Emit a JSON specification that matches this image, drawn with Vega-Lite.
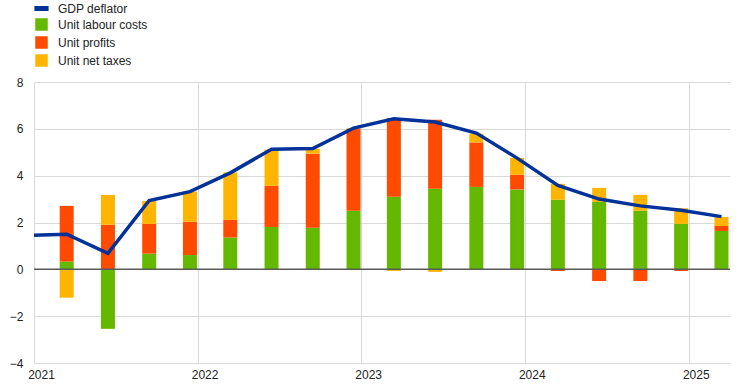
{
  "$schema": "https://vega.github.io/schema/vega-lite/v6.json",
  "autosize": {"type": "none"},
  "width": 696,
  "height": 281,
  "padding": {"left": 34, "top": 82, "right": 14, "bottom": 27},
  "config": {
    "font": "Liberation Sans",
    "view": {"stroke": null},
    "axis": {"labelFont": "Liberation Sans", "labelFontSize": 12, "labelColor": "#222222", "gridColor": "#d9d9d9", "gridWidth": 1, "domain": false, "ticks": false, "title": null}
  },
  "datasets": {
    "bars": [
      {"date": "2021-03-15", "series": "Unit labour costs", "ord": 1, "value": 0.33},
      {"date": "2021-03-15", "series": "Unit profits", "ord": 2, "value": 2.38},
      {"date": "2021-03-15", "series": "Unit net taxes", "ord": 3, "value": -1.21},
      {"date": "2021-06-15", "series": "Unit labour costs", "ord": 1, "value": -2.54},
      {"date": "2021-06-15", "series": "Unit profits", "ord": 2, "value": 1.90},
      {"date": "2021-06-15", "series": "Unit net taxes", "ord": 3, "value": 1.28},
      {"date": "2021-09-15", "series": "Unit labour costs", "ord": 1, "value": 0.67},
      {"date": "2021-09-15", "series": "Unit profits", "ord": 2, "value": 1.27},
      {"date": "2021-09-15", "series": "Unit net taxes", "ord": 3, "value": 0.98},
      {"date": "2021-12-15", "series": "Unit labour costs", "ord": 1, "value": 0.61},
      {"date": "2021-12-15", "series": "Unit profits", "ord": 2, "value": 1.42},
      {"date": "2021-12-15", "series": "Unit net taxes", "ord": 3, "value": 1.29},
      {"date": "2022-03-15", "series": "Unit labour costs", "ord": 1, "value": 1.36},
      {"date": "2022-03-15", "series": "Unit profits", "ord": 2, "value": 0.75},
      {"date": "2022-03-15", "series": "Unit net taxes", "ord": 3, "value": 2.03},
      {"date": "2022-06-15", "series": "Unit labour costs", "ord": 1, "value": 1.81},
      {"date": "2022-06-15", "series": "Unit profits", "ord": 2, "value": 1.76},
      {"date": "2022-06-15", "series": "Unit net taxes", "ord": 3, "value": 1.54},
      {"date": "2022-09-15", "series": "Unit labour costs", "ord": 1, "value": 1.78},
      {"date": "2022-09-15", "series": "Unit profits", "ord": 2, "value": 3.16},
      {"date": "2022-09-15", "series": "Unit net taxes", "ord": 3, "value": 0.21},
      {"date": "2022-12-15", "series": "Unit labour costs", "ord": 1, "value": 2.50},
      {"date": "2022-12-15", "series": "Unit profits", "ord": 2, "value": 3.50},
      {"date": "2022-12-15", "series": "Unit net taxes", "ord": 3, "value": 0.03},
      {"date": "2023-03-15", "series": "Unit labour costs", "ord": 1, "value": 3.10},
      {"date": "2023-03-15", "series": "Unit profits", "ord": 2, "value": 3.36},
      {"date": "2023-03-15", "series": "Unit net taxes", "ord": 3, "value": -0.07},
      {"date": "2023-06-15", "series": "Unit labour costs", "ord": 1, "value": 3.44},
      {"date": "2023-06-15", "series": "Unit profits", "ord": 2, "value": 2.95},
      {"date": "2023-06-15", "series": "Unit net taxes", "ord": 3, "value": -0.11},
      {"date": "2023-09-15", "series": "Unit labour costs", "ord": 1, "value": 3.52},
      {"date": "2023-09-15", "series": "Unit profits", "ord": 2, "value": 1.90},
      {"date": "2023-09-15", "series": "Unit net taxes", "ord": 3, "value": 0.37},
      {"date": "2023-12-15", "series": "Unit labour costs", "ord": 1, "value": 3.41},
      {"date": "2023-12-15", "series": "Unit profits", "ord": 2, "value": 0.63},
      {"date": "2023-12-15", "series": "Unit net taxes", "ord": 3, "value": 0.72},
      {"date": "2024-03-15", "series": "Unit labour costs", "ord": 1, "value": 2.97},
      {"date": "2024-03-15", "series": "Unit profits", "ord": 2, "value": -0.07},
      {"date": "2024-03-15", "series": "Unit net taxes", "ord": 3, "value": 0.68},
      {"date": "2024-06-15", "series": "Unit labour costs", "ord": 1, "value": 2.88},
      {"date": "2024-06-15", "series": "Unit profits", "ord": 2, "value": -0.50},
      {"date": "2024-06-15", "series": "Unit net taxes", "ord": 3, "value": 0.60},
      {"date": "2024-09-15", "series": "Unit labour costs", "ord": 1, "value": 2.50},
      {"date": "2024-09-15", "series": "Unit profits", "ord": 2, "value": -0.50},
      {"date": "2024-09-15", "series": "Unit net taxes", "ord": 3, "value": 0.68},
      {"date": "2024-12-15", "series": "Unit labour costs", "ord": 1, "value": 1.94},
      {"date": "2024-12-15", "series": "Unit profits", "ord": 2, "value": -0.07},
      {"date": "2024-12-15", "series": "Unit net taxes", "ord": 3, "value": 0.67},
      {"date": "2025-03-15", "series": "Unit labour costs", "ord": 1, "value": 1.64},
      {"date": "2025-03-15", "series": "Unit profits", "ord": 2, "value": 0.21},
      {"date": "2025-03-15", "series": "Unit net taxes", "ord": 3, "value": 0.39}
    ],
    "deflator": [
      {"date": "2020-12-15", "gdp": 1.44},
      {"date": "2021-03-15", "gdp": 1.50},
      {"date": "2021-06-15", "gdp": 0.68},
      {"date": "2021-09-15", "gdp": 2.94},
      {"date": "2021-12-15", "gdp": 3.32},
      {"date": "2022-03-15", "gdp": 4.12},
      {"date": "2022-06-15", "gdp": 5.13},
      {"date": "2022-09-15", "gdp": 5.16},
      {"date": "2022-12-15", "gdp": 6.03},
      {"date": "2023-03-15", "gdp": 6.43},
      {"date": "2023-06-15", "gdp": 6.29},
      {"date": "2023-09-15", "gdp": 5.82},
      {"date": "2023-12-15", "gdp": 4.75},
      {"date": "2024-03-15", "gdp": 3.58},
      {"date": "2024-06-15", "gdp": 3.00},
      {"date": "2024-09-15", "gdp": 2.71},
      {"date": "2024-12-15", "gdp": 2.52},
      {"date": "2025-03-15", "gdp": 2.25}
    ]
  },
  "layer": [
    {
      "data": {"name": "bars"},
      "mark": {"type": "bar", "width": 14, "clip": true},
      "encoding": {
        "x": {
          "field": "date", "type": "temporal",
          "scale": {"domain": ["2021-01-01", "2025-04-03"], "padding": 0, "nice": false},
          "axis": {"format": "%Y", "tickCount": {"interval": "year", "step": 1}, "grid": true, "labelOffset": 7, "labelPadding": 6, "labelAlign": "center"}
        },
        "y": {
          "field": "value", "type": "quantitative", "stack": "zero",
          "scale": {"domain": [-4, 8], "nice": false},
          "axis": {"values": [-4, -2, 0, 2, 4, 6, 8], "grid": true, "labelPadding": 11}
        },
        "color": {
          "field": "series", "type": "nominal",
          "scale": {"domain": ["GDP deflator", "Unit labour costs", "Unit profits", "Unit net taxes"], "range": ["#003299", "#65B800", "#FF4B00", "#FFB400"]},
          "legend": {
            "orient": "none", "legendX": 1, "legendY": -80, "direction": "vertical",
            "title": null, "symbolSize": 121, "labelFontSize": 12, "labelFont": "Liberation Sans", "labelColor": "#222222",
            "rowPadding": 1, "labelOffset": 10,
            "encode": {
              "symbols": {
                "update": {
                  "shape": {"signal": "datum.value === 'GDP deflator' ? 'M-1.15,-0.3H1.15V0.3H-1.15Z' : 'square'"},
                  "fill": {"signal": "scale('color', datum.value)"},
                  "stroke": {"value": "transparent"},
                  "opacity": {"value": 1}
                }
              }
            }
          }
        },
        "order": {"field": "ord", "type": "quantitative"}
      }
    },
    {
      "data": {"values": [{}]},
      "mark": {"type": "rule", "color": "#595959", "strokeWidth": 1.5},
      "encoding": {"y": {"datum": 0}}
    },
    {
      "data": {"name": "deflator"},
      "mark": {"type": "line", "strokeWidth": 3.5, "clip": true},
      "encoding": {
        "x": {"field": "date", "type": "temporal"},
        "y": {"field": "gdp", "type": "quantitative"},
        "color": {"datum": "GDP deflator"}
      }
    }
  ]
}
